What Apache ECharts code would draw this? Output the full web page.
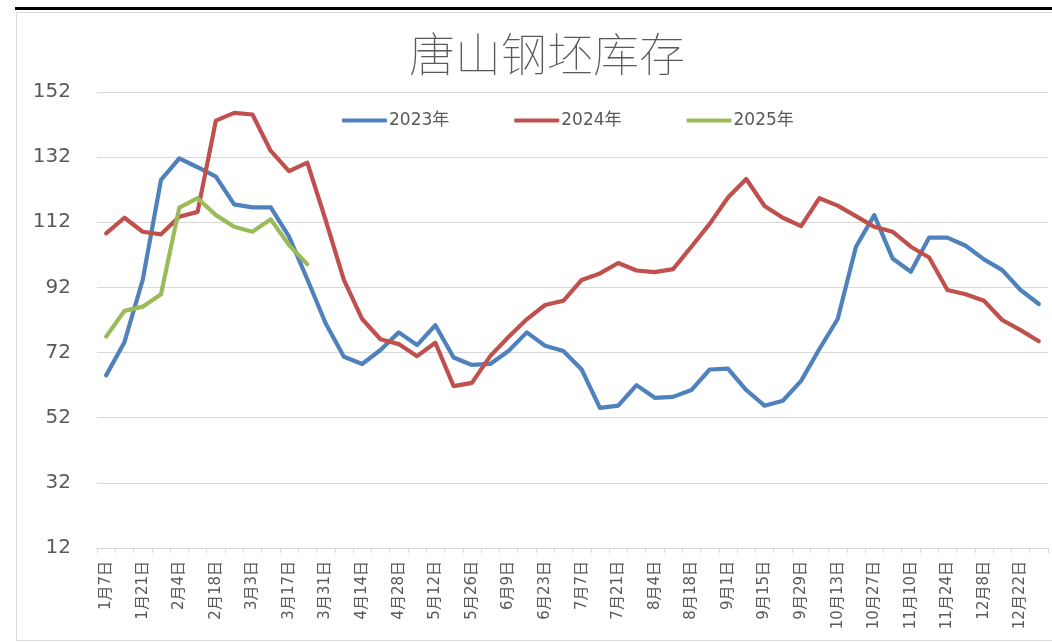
<!DOCTYPE html>
<html>
<head>
<meta charset="utf-8">
<script src="https://cdn.jsdelivr.net/npm/echarts@6/dist/echarts.min.js"></script>
<style>html,body{margin:0;padding:0;background:#fff}#c{width:1052px;height:643px}</style>
</head>
<body>
<div id="c"></div>
<script>
const categories = ['1月7日','1月14日','1月21日','1月28日','2月4日','2月11日','2月18日','2月25日','3月3日','3月10日','3月17日','3月24日','3月31日','4月7日','4月14日','4月21日','4月28日','5月5日','5月12日','5月19日','5月26日','6月2日','6月9日','6月16日','6月23日','6月30日','7月7日','7月14日','7月21日','7月28日','8月4日','8月11日','8月18日','8月25日','9月1日','9月8日','9月15日','9月22日','9月29日','10月6日','10月13日','10月20日','10月27日','11月3日','11月10日','11月17日','11月24日','12月1日','12月8日','12月15日','12月22日','12月29日'];
const s2023 = [65,75.2,94.3,125,131.6,128.9,126,117.5,116.6,116.6,107.6,94.5,81,70.7,68.5,72.8,78.2,74.3,80.4,70.5,68.2,68.5,72.5,78.2,74.1,72.5,66.8,55,55.7,62,58.1,58.4,60.5,66.8,67.1,60.5,55.7,57.2,63.3,73.1,82.3,104.5,114.2,100.9,96.8,107.3,107.3,104.8,100.6,97.3,91.2,86.9];
const s2024 = [108.6,113.4,109.1,108.3,113.7,115.2,143.2,145.6,145.1,133.9,127.7,130.3,112.7,94.3,82.3,76.1,74.6,70.9,75,61.7,62.7,70.9,76.8,82.2,86.6,87.9,94.3,96.3,99.5,97.2,96.7,97.6,104.5,111.5,119.6,125.3,117,113.4,110.8,119.4,117.1,113.9,110.6,109.1,104.5,101.2,91.2,89.9,87.9,82,78.9,75.5];
const s2025 = [76.9,84.8,86.1,89.9,116.5,119.4,114.2,110.6,109.1,112.9,105,99.1];
const yTicks = {min: 12, max: 152, step: 20};

const font = "'DejaVu Sans','Noto Sans CJK SC',sans-serif";
const chart = echarts.init(document.getElementById('c'), null, {renderer: 'canvas'});
const mk = (name, data, color) => ({
  name, type: 'line', data, symbol: 'none', smooth: false,
  lineStyle: {color, width: 4.2, cap: 'round', join: 'round'},
  itemStyle: {color}, z: 3
});
chart.setOption({
  animation: false,
  backgroundColor: '#fff',
  graphic: [
    {type: 'rect', shape: {x: 16.5, y: 12.5, width: 1045, height: 628}, style: {fill: 'none', stroke: '#d9d9d9', lineWidth: 1}, silent: true, z: -1},
    {type: 'rect', shape: {x: 15, y: 7, width: 1040, height: 3}, style: {fill: '#000'}, silent: true}
  ],
  title: {
    text: '唐山钢坯库存', left: 404, top: 26,
    textStyle: {fontFamily: "'Noto Sans CJK SC',sans-serif", fontSize: 46, fontWeight: 'lighter', color: '#595959'}
  },
  legend: {
    left: 337, top: 107, itemWidth: 45, itemHeight: 4, itemGap: 65,
    icon: 'roundRect',
    textStyle: {fontFamily: font, fontSize: 17, color: '#595959', padding: [0,0,0,-3]},
    data: ['2023年','2024年','2025年']
  },
  grid: {left: 97, right: 4, top: 92, bottom: 95, containLabel: false},
  xAxis: {
    type: 'category', data: categories, boundaryGap: true,
    axisLine: {lineStyle: {color: '#d9d9d9', width: 1}},
    axisTick: {show: true, interval: 0, length: 5, lineStyle: {color: '#d9d9d9'}},
    axisLabel: {interval: 1, rotate: 90, fontFamily: font, fontSize: 15, color: '#595959', margin: 13}
  },
  yAxis: {
    type: 'value', min: yTicks.min, max: yTicks.max, interval: yTicks.step,
    axisLine: {show: false}, axisTick: {show: false},
    splitLine: {lineStyle: {color: '#d9d9d9', width: 1}},
    axisLabel: {fontFamily: font, fontSize: 20, color: '#595959', margin: 26}
  },
  series: [mk('2023年', s2023, '#4F81BD'), mk('2024年', s2024, '#C0504D'), mk('2025年', s2025, '#9BBB59')]
});
</script>
</body>
</html>
